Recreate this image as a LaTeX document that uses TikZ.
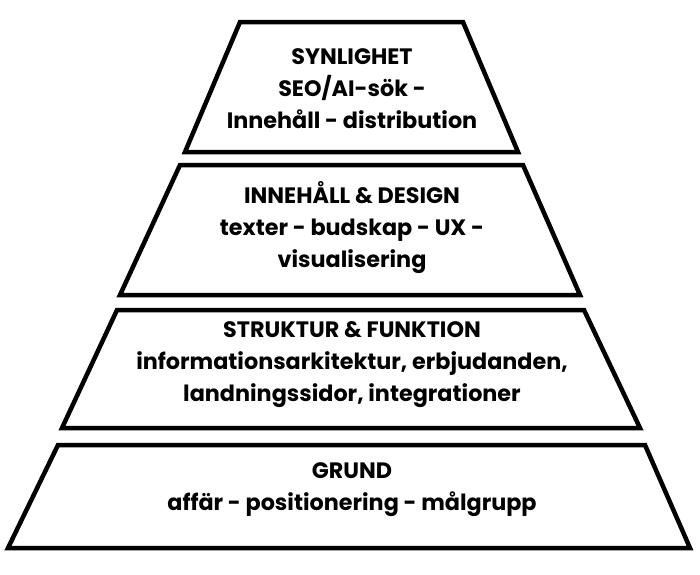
\documentclass[tikz,border=0pt]{standalone}
\usepackage{fontspec}
\setmainfont{Poppins}
\begin{document}
\begin{tikzpicture}[x=1pt,y=-1pt,
  tier/.style={draw=black,line width=4.5pt,line join=miter,fill=white},
  lbl/.style={align=center,font=\fontsize{22.3}{32}\selectfont\bfseries,inner sep=0pt}]
\useasboundingbox (0,0) rectangle (700,574);
\draw[tier] (240,22) -- (463,22) -- (518,152) -- (185,152) -- cycle;
\draw[tier] (180,165) -- (523,165) -- (580,295) -- (120,295) -- cycle;
\draw[tier] (117,310) -- (584,310) -- (640,428) -- (62,428) -- cycle;
\draw[tier] (58,445) -- (645,445) -- (690,548) -- (8,548) -- cycle;
\node[lbl] (t1) at (352,89) {SYNLIGHET\\SEO/AI-sök -\\Innehåll - distribution};
\node[lbl] (t2) at (352,228) {INNEHÅLL \& DESIGN\\texter - budskap - UX -\\visualisering};
\node[lbl] (t3) at (352,365) {STRUKTUR \& FUNKTION\\informationsarkitektur, erbjudanden,\\landningssidor, integrationer};
\node[lbl] (t4) at (352,490) {GRUND\\affär - positionering - målgrupp};
\end{tikzpicture}
\end{document}
